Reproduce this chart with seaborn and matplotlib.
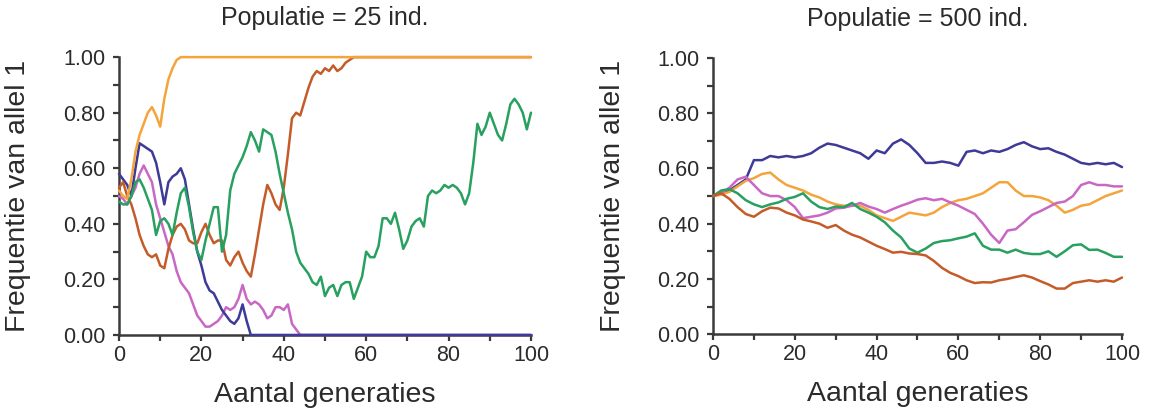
import pandas as pd
import seaborn as sns
import matplotlib.pyplot as plt
from matplotlib.ticker import MultipleLocator, FormatStrFormatter

# Populatie = 25 ind.: one value per generation, after fixation the value stays until gen 100
oranje_25 = [0.52, 0.50, 0.49, 0.56, 0.66, 0.72, 0.76, 0.80, 0.82, 0.79,
             0.75, 0.85, 0.92, 0.96, 0.99, 1.00]
bruin_25 = [0.53, 0.55, 0.50, 0.47, 0.42, 0.36, 0.32, 0.29, 0.28, 0.29,
            0.25, 0.24, 0.31, 0.36, 0.39, 0.40, 0.38, 0.34, 0.33, 0.33,
            0.37, 0.40, 0.36, 0.33, 0.34, 0.34, 0.27, 0.25, 0.28, 0.30,
            0.26, 0.23, 0.21, 0.29, 0.38, 0.47, 0.54, 0.51, 0.47, 0.45,
            0.53, 0.65, 0.78, 0.80, 0.79, 0.84, 0.89, 0.93, 0.95, 0.94,
            0.96, 0.95, 0.97, 0.95, 0.96, 0.98, 0.99, 1.00]
blauw_25 = [0.58, 0.56, 0.54, 0.50, 0.60, 0.69, 0.68, 0.67, 0.66, 0.62,
            0.55, 0.47, 0.55, 0.57, 0.58, 0.60, 0.56, 0.47, 0.38, 0.30,
            0.25, 0.19, 0.16, 0.15, 0.12, 0.09, 0.07, 0.05, 0.04, 0.06,
            0.11, 0.05, 0.00]
roze_25 = [0.50, 0.49, 0.47, 0.50, 0.53, 0.58, 0.61, 0.58, 0.55, 0.47,
           0.42, 0.37, 0.32, 0.29, 0.23, 0.19, 0.17, 0.15, 0.11, 0.07,
           0.05, 0.03, 0.03, 0.04, 0.05, 0.07, 0.10, 0.09, 0.10, 0.13,
           0.18, 0.13, 0.11, 0.12, 0.11, 0.09, 0.06, 0.07, 0.10, 0.10,
           0.09, 0.11, 0.04, 0.02, 0.00]
groen_25 = [0.48, 0.47, 0.47, 0.50, 0.55, 0.56, 0.53, 0.49, 0.45, 0.36,
            0.41, 0.42, 0.40, 0.36, 0.44, 0.51, 0.53, 0.46, 0.37, 0.30,
            0.27, 0.34, 0.40, 0.46, 0.46, 0.30, 0.36, 0.52, 0.58, 0.61,
            0.64, 0.68, 0.73, 0.70, 0.66, 0.74, 0.73, 0.72, 0.66, 0.58,
            0.51, 0.44, 0.38, 0.30, 0.26, 0.24, 0.22, 0.19, 0.18, 0.21,
            0.14, 0.17, 0.18, 0.14, 0.18, 0.19, 0.19, 0.13, 0.17, 0.21,
            0.30, 0.28, 0.28, 0.32, 0.42, 0.42, 0.40, 0.44, 0.38, 0.31,
            0.34, 0.39, 0.41, 0.42, 0.39, 0.50, 0.52, 0.51, 0.52, 0.54,
            0.53, 0.54, 0.53, 0.51, 0.47, 0.51, 0.62, 0.76, 0.72, 0.75,
            0.80, 0.76, 0.72, 0.70, 0.76, 0.83, 0.85, 0.83, 0.80, 0.74,
            0.80]

# Populatie = 500 ind.: one value every 2 generations (0, 2, ..., 100)
gen_500 = list(range(0, 101, 2))
blauw_500 = [0.50, 0.51, 0.52, 0.54, 0.56, 0.63, 0.63, 0.645, 0.64, 0.645,
             0.64, 0.645, 0.655, 0.675, 0.69, 0.685, 0.675, 0.665, 0.655, 0.635,
             0.665, 0.655, 0.69, 0.705, 0.685, 0.655, 0.62, 0.62, 0.625, 0.62,
             0.61, 0.66, 0.665, 0.655, 0.665, 0.66, 0.67, 0.685, 0.695, 0.68,
             0.67, 0.673, 0.66, 0.65, 0.635, 0.62, 0.615, 0.62, 0.615, 0.62,
             0.605]
oranje_500 = [0.50, 0.505, 0.515, 0.535, 0.555, 0.565, 0.58, 0.585, 0.56, 0.54,
              0.53, 0.52, 0.505, 0.495, 0.48, 0.47, 0.465, 0.465, 0.465, 0.45,
              0.43, 0.42, 0.41, 0.425, 0.44, 0.435, 0.43, 0.44, 0.46, 0.475,
              0.485, 0.49, 0.50, 0.51, 0.53, 0.55, 0.55, 0.52, 0.50, 0.50,
              0.495, 0.485, 0.465, 0.44, 0.45, 0.465, 0.47, 0.485, 0.50, 0.51,
              0.52]
roze_500 = [0.50, 0.51, 0.53, 0.56, 0.57, 0.54, 0.51, 0.50, 0.50, 0.485,
            0.46, 0.42, 0.425, 0.43, 0.44, 0.455, 0.458, 0.465, 0.475, 0.462,
            0.453, 0.44, 0.453, 0.465, 0.475, 0.487, 0.492, 0.485, 0.49, 0.477,
            0.465, 0.45, 0.435, 0.40, 0.36, 0.33, 0.375, 0.38, 0.405, 0.432,
            0.445, 0.46, 0.475, 0.48, 0.50, 0.54, 0.55, 0.54, 0.54, 0.535,
            0.535]
groen_500 = [0.50, 0.52, 0.525, 0.51, 0.485, 0.47, 0.46, 0.47, 0.477, 0.49,
             0.497, 0.51, 0.48, 0.46, 0.453, 0.462, 0.46, 0.475, 0.453, 0.44,
             0.425, 0.405, 0.375, 0.35, 0.31, 0.295, 0.31, 0.33, 0.337, 0.34,
             0.347, 0.353, 0.365, 0.32, 0.306, 0.306, 0.295, 0.306, 0.294, 0.29,
             0.29, 0.30, 0.28, 0.30, 0.322, 0.325, 0.305, 0.306, 0.294, 0.28,
             0.28]
bruin_500 = [0.50, 0.51, 0.49, 0.46, 0.435, 0.425, 0.445, 0.458, 0.455, 0.44,
             0.43, 0.415, 0.408, 0.40, 0.385, 0.395, 0.375, 0.36, 0.35, 0.335,
             0.32, 0.308, 0.295, 0.298, 0.292, 0.29, 0.285, 0.265, 0.24, 0.222,
             0.21, 0.195, 0.185, 0.188, 0.187, 0.195, 0.20, 0.207, 0.213, 0.205,
             0.192, 0.18, 0.165, 0.165, 0.185, 0.19, 0.195, 0.19, 0.195, 0.19,
             0.205]

kleuren = {"roze": "#c968c4", "blauw": "#3d3a98", "bruin": "#c45c2a",
           "oranje": "#f5a43c", "groen": "#27a060"}


def run_frame(naam, gens, waarden):
    return pd.DataFrame({"gen": gens, "freq": waarden, "run": naam})


def fixed_run(naam, waarden):
    # one value per generation, then the fixed value carried on to gen 100
    gens = list(range(len(waarden))) + [100]
    return run_frame(naam, gens, waarden + [waarden[-1]])


df_25 = pd.concat([
    fixed_run("roze", roze_25),
    fixed_run("blauw", blauw_25),
    fixed_run("bruin", bruin_25),
    fixed_run("oranje", oranje_25),
    run_frame("groen", list(range(101)), groen_25),
])
df_500 = pd.concat([
    run_frame("blauw", gen_500, blauw_500),
    run_frame("oranje", gen_500, oranje_500),
    run_frame("roze", gen_500, roze_500),
    run_frame("groen", gen_500, groen_500),
    run_frame("bruin", gen_500, bruin_500),
])

sns.set_style("ticks")
plt.rcParams['font.family'] = ['Liberation Sans', 'DejaVu Sans']
tekst = "#2b2b2b"
as_kleur = "#3a3a3a"

fig = plt.figure(figsize=(11.53, 4.11), dpi=100)
ax1 = fig.add_axes([0.1032, 0.185, 0.3573, 0.676])
ax2 = fig.add_axes([0.6184, 0.187, 0.3547, 0.672])

for ax, df, titel in [(ax1, df_25, "Populatie = 25 ind."),
                      (ax2, df_500, "Populatie = 500 ind.")]:
    sns.lineplot(data=df, x="gen", y="freq", hue="run", palette=kleuren,
                 estimator=None, sort=False, legend=False, linewidth=1.8, ax=ax)
    for line in ax.lines:
        line.set_clip_on(False)
        line.set_zorder(3)
    ax.set_xlim(0, 100)
    ax.set_ylim(0, 1)
    ax.xaxis.set_major_locator(MultipleLocator(20))
    ax.xaxis.set_minor_locator(MultipleLocator(10))
    ax.yaxis.set_major_locator(MultipleLocator(0.2))
    ax.yaxis.set_minor_locator(MultipleLocator(0.1))
    ax.yaxis.set_major_formatter(FormatStrFormatter("%.2f"))
    ax.tick_params(which="both", direction="out", length=4.5, width=1.6,
                   color=as_kleur, labelsize=15.5, labelcolor=tekst)
    ax.tick_params(axis="x", pad=2.5)
    ax.tick_params(axis="y", pad=5.5)
    sns.despine(ax=ax)
    for s in ["left", "bottom"]:
        ax.spines[s].set_color(as_kleur)
        ax.spines[s].set_linewidth(1.8)
    ax.set_xlabel("")
    ax.set_ylabel("")
    ax.text(0.5, 1.14, titel, transform=ax.transAxes, ha="center", va="center",
            fontsize=18, color=tekst)
    ax.text(0.5, -0.215, "Aantal generaties", transform=ax.transAxes,
            ha="center", va="center", fontsize=20.5, color=tekst)
    ax.text(-0.245, 0.5, "Frequentie van allel 1", transform=ax.transAxes,
            ha="center", va="center", rotation=90, fontsize=20.5, color=tekst)

fig.savefig("out.png", dpi=100)
